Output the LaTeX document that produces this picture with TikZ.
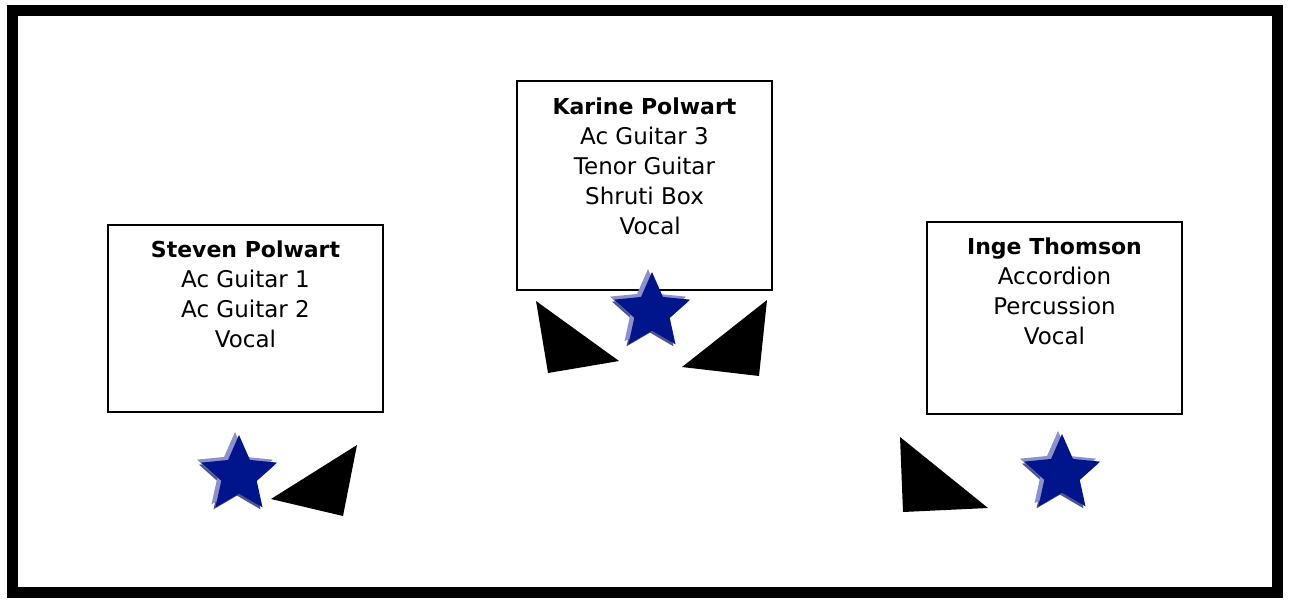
\documentclass[tikz,border=0pt]{standalone}
\usepackage{fontspec}
\setmainfont{DejaVu Sans}
\usepackage{tikz}
\usetikzlibrary{positioning, shapes.geometric}
\definecolor{starblue}{RGB}{0,20,140}
\definecolor{starshade}{RGB}{140,145,205}
\definecolor{stardark}{RGB}{80,85,140}

\newcommand{\who}[1]{{\fontsize{22}{30}\selectfont\bfseries #1}}

\tikzset{
  stagebox/.style={draw, line width=1.5pt, rectangle, inner sep=0pt},
  names/.style={align=center, font=\fontsize{23}{30}\selectfont, inner sep=0pt},
  micstar/.style={star, star points=5, star point ratio=2.15, minimum size=80pt, inner sep=0pt, fill=starblue},
  shadestar/.style={micstar, fill=starshade},
  darkstar/.style={micstar, fill=stardark},
  wedge/.style={fill=black}
}

\begin{document}
\begin{tikzpicture}[x=1pt, y=-1pt]
    \useasboundingbox (0,0) rectangle (1289,603);
    % stage frame
    \draw[line width=11pt] (12.5,10.5) rectangle (1277.5,592.5);

    % players
    \node[stagebox, minimum width=275pt, minimum height=187pt] (steven) at (245.5,318.5) {};
    \node[names, below=16pt of steven.north] (stevenText) {\who{Steven Polwart}\\Ac Guitar 1\\Ac Guitar 2\\Vocal};

    \node[stagebox, minimum width=255pt, minimum height=209pt] (karine) at (644.5,185.5) {};
    \node[names, below=17pt of karine.north] (karineText) {\who{Karine Polwart}\\Ac Guitar 3\\Tenor Guitar\\Shruti Box\\\hspace{0.5em}Vocal};

    \node[stagebox, minimum width=255pt, minimum height=192pt] (inge) at (1054.5,318) {};
    \node[names, below=16pt of inge.north] (ingeText) {\who{Inge Thomson}\\Accordion\\Percussion\\Vocal};

    % vocal mics
    \foreach \name/\px/\py in {stevenMic/239/475, karineMic/652/312, ingeMic/1062/474}{
      \node[darkstar] at (\px-2,\py+2) {};
      \node[shadestar] at (\px-4,\py-3) {};
      \node[micstar] (\name) at (\px,\py) {};
    }

    % monitors
    \fill[wedge] (271,499) -- (357,445) -- (343,516) -- cycle;
    \fill[wedge] (536,301) -- (619,361) -- (548,373) -- cycle;
    \fill[wedge] (767,300) -- (682,367) -- (759,376) -- cycle;
    \fill[wedge] (900,437) -- (988,508) -- (903,512) -- cycle;
  \end{tikzpicture}
\end{document}
